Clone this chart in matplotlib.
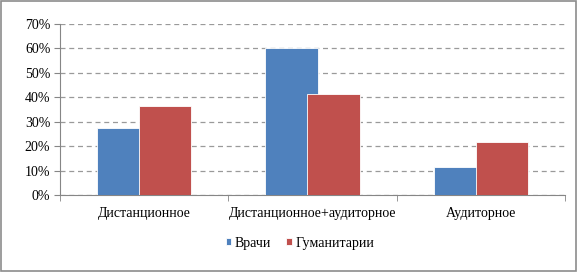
import numpy as np
import matplotlib.pyplot as plt
from matplotlib.ticker import FuncFormatter
from matplotlib.patches import Rectangle

categories = ["Дистанционное", "Дистанционное+аудиторное", "Аудиторное"]
doctors = [27.5, 60.3, 11.3]
humanities = [36.4, 41.3, 21.6]
series_names = ["Врачи", "Гуманитарии"]

plt.rcParams['font.family'] = ['Liberation Serif', 'DejaVu Serif']

fig = plt.figure(figsize=(5.78, 2.72), dpi=100)
ax = fig.add_axes([60/578, 1 - 195/272, 505/578, 171/272])

x = np.arange(len(categories))
w = 0.31
off = 0.125
ax.bar(x - off, doctors, w, color='#4F81BD', edgecolor='white', linewidth=0.6,
       label=series_names[0], zorder=3)
ax.bar(x + off, humanities, w, color='#C0504D', edgecolor='white', linewidth=0.6,
       label=series_names[1], zorder=4)

ax.set_xlim(-0.5, 2.5)
ax.set_ylim(0, 70)
ax.set_yticks(range(0, 71, 10))
ax.yaxis.set_major_formatter(FuncFormatter(lambda v, p: f"{int(v)}%"))
ax.grid(axis='y', linestyle=(0, (4, 3)), color='#9a9a9a', linewidth=0.9, zorder=0)

ax.set_xticks(x)
ax.set_xticklabels(categories)
ax.set_xticks([-0.5, 0.5, 1.5, 2.5], minor=True)
ax.tick_params(axis='x', which='major', length=0, pad=9, labelsize=10)
ax.tick_params(axis='x', which='minor', length=4, color='#868686')
ax.tick_params(axis='y', length=4, color='#868686', labelsize=10, pad=3)

for s in ['top', 'right']:
    ax.spines[s].set_visible(False)
for s in ['left', 'bottom']:
    ax.spines[s].set_color('#868686')

# легенда чуть правее центра, как в оригинале
fig.legend(loc='center', bbox_to_anchor=(0.519, 1 - 243/272), ncol=2, frameon=False,
           fontsize=10, handlelength=0.4, handleheight=0.4, handletextpad=0.25,
           columnspacing=1.1)

fig.patches.append(Rectangle((0.002, 0.004), 0.995, 0.992, transform=fig.transFigure,
                             fill=False, edgecolor='#8c8c8c', linewidth=1.2))

fig.savefig('out.png', dpi=100)
